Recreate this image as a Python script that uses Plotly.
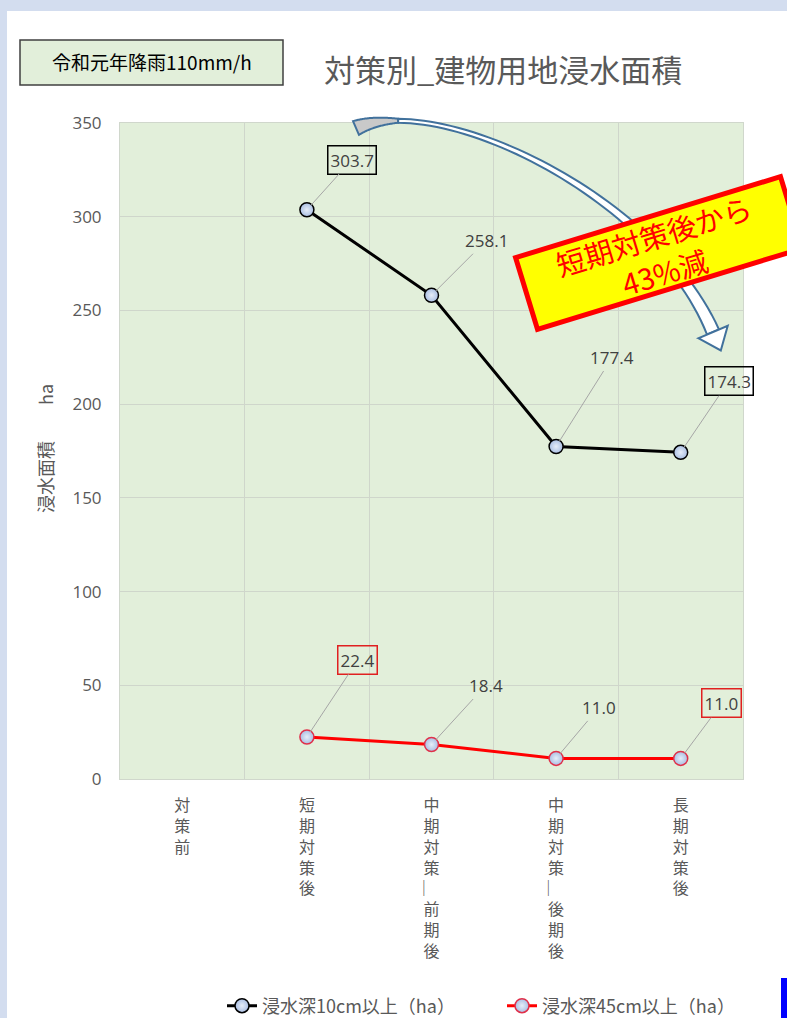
import numpy as np
import plotly.graph_objects as go

# ---------------- data ----------------
categories = ["対策前", "短期対策後", "中期対策_前期後", "中期対策_後期後", "長期対策後"]
depth10 = [None, 303.7, 258.1, 177.4, 174.3]
depth45 = [None, 22.4, 18.4, 11.0, 11.0]
series_names = ["浸水深10cm以上（ha）", "浸水深45cm以上（ha）"]
title_text = "対策別_建物用地浸水面積"
rain_text = "令和元年降雨110mm/h"
yaxis_text = "浸水面積　　ha"
callout_text = "短期対策後から<br>43%減"
y_ticks = [0, 50, 100, 150, 200, 250, 300, 350]

# ---------------- layout geometry (pixels) ----------------
W, H = 787, 1018
L, R, T, B = 120, 743, 123, 779
PW, PH = R - L, B - T


def px(x, y):
    return (x - L) / PW, (B - y) / PH


FONT = "Noto Sans CJK JP"
GRAY = "#595959"

tick_text = ["<br>".join(list(c.replace("_", "︳"))) for c in categories]

fig = go.Figure()
fig.add_trace(go.Scatter(
    x=categories, y=depth10, name=series_names[0], mode="lines+markers",
    line=dict(color="#000000", width=3),
    marker=dict(size=14, color="#a9bee3", line=dict(color="#000000", width=1.5),
                gradient=dict(type="radial", color="#e6edf8")),
))
fig.add_trace(go.Scatter(
    x=categories, y=depth45, name=series_names[1], mode="lines+markers",
    line=dict(color="#ff0000", width=3),
    marker=dict(size=14, color="#a9bee3", line=dict(color="#e0304a", width=1.5),
                gradient=dict(type="radial", color="#e6edf8")),
))

# data labels with leader lines
label_offsets_10 = [None, (45, -50), (55, -55), (56, -89), (48, -71)]
label_box_10 = [None, "#000000", None, None, "#000000"]
label_offsets_45 = [None, (51, -77), (54, -59), (43, -51), (41, -55)]
label_box_45 = [None, "#e02020", None, None, "#e02020"]

annotations = []
for vals, offs, boxes in [(depth10, label_offsets_10, label_box_10),
                          (depth45, label_offsets_45, label_box_45)]:
    for c, v, o, bc in zip(categories, vals, offs, boxes):
        if v is None:
            continue
        annotations.append(dict(
            x=c, y=v, xref="x", yref="y", text=f"{v:.1f}",
            ax=o[0], ay=o[1], showarrow=True, arrowhead=0, arrowwidth=1,
            arrowcolor="#a6a6a6", standoff=6,
            font=dict(family="Open Sans", size=17, color="#404040"),
            bordercolor=bc if bc else "rgba(0,0,0,0)", borderwidth=1.5 if bc else 0,
            borderpad=2,
        ))


def paper_text(x, y, text, size, color, **kw):
    xp, yp = px(x, y)
    d = dict(x=xp, y=yp, xref="paper", yref="paper", text=text, showarrow=False,
             xanchor="center", yanchor="middle",
             font=dict(family=FONT, size=size, color=color))
    d.update(kw)
    return d


annotations.append(paper_text(503, 68, title_text, 31, GRAY))
annotations.append(paper_text(152, 62, rain_text, 19, "#000000"))
annotations.append(paper_text(45, 449, yaxis_text, 18, GRAY, textangle=-90))
annotations.append(paper_text(659, 253, callout_text, 29, "#ff0000", textangle=-17,
                              width=272, height=70, bgcolor="#ffff00",
                              bordercolor="#ff0000", borderwidth=5, borderpad=0))

# ---------------- shapes ----------------
shapes = []
shapes.append(dict(type="rect", xref="paper", yref="paper",
                   x0=px(0, 0)[0], x1=px(7, 0)[0], y0=px(0, H)[1], y1=px(0, 0)[1],
                   fillcolor="#d3ddef", line=dict(width=0), layer="below"))
shapes.append(dict(type="rect", xref="paper", yref="paper",
                   x0=px(0, 0)[0], x1=px(W, 0)[0], y0=px(0, 11)[1], y1=px(0, 0)[1],
                   fillcolor="#d3ddef", line=dict(width=0), layer="below"))
shapes.append(dict(type="rect", xref="paper", yref="paper",
                   x0=px(781, 0)[0], x1=px(W, 0)[0], y0=px(0, H)[1], y1=px(0, 978)[1],
                   fillcolor="#0000ff", line=dict(width=0)))
bx0, by0 = px(20, 85)
bx1, by1 = px(283, 40)
shapes.append(dict(type="rect", xref="paper", yref="paper", x0=bx0, x1=bx1, y0=by0, y1=by1,
                   fillcolor="#e2efda", line=dict(color="#404040", width=1.5)))


# curved block arrow (decoration)
def bez(p, t):
    p0, p1, p2, p3 = [np.array(q, float) for q in p]
    t = np.asarray(t, float)[:, None]
    pt = (1 - t) ** 3 * p0 + 3 * (1 - t) ** 2 * t * p1 + 3 * (1 - t) * t ** 2 * p2 + t ** 3 * p3
    d = 3 * (1 - t) ** 2 * (p1 - p0) + 6 * (1 - t) * t * (p2 - p1) + 3 * t ** 2 * (p3 - p2)
    return pt, d


ctrl = [(356, 128), (440, 92), (655, 195), (713, 332)]


def band(t0, t1, wfun, n=50):
    t = np.linspace(t0, t1, n)
    pt, d = bez(ctrl, t)
    nrm = np.stack([-d[:, 1], d[:, 0]], 1)
    nrm /= np.linalg.norm(nrm, axis=1)[:, None]
    w = np.array([wfun(tt) for tt in t])[:, None] / 2
    return np.vstack([pt + nrm * w, (pt - nrm * w)[::-1]])


def path_of(poly):
    pts = [px(x, y) for x, y in poly]
    return "M " + " L ".join(f"{x:.5f},{y:.5f}" for x, y in pts) + " Z"


gray_part = band(0.0, 0.14, lambda t: 15 - (t / 0.14) * 11)
white_part = band(0.14, 1.0, lambda t: 4 + 9 * ((t - 0.14) / 0.86) ** 2)
pt, d = bez(ctrl, [1.0])
pt, d = pt[0], d[0] / np.linalg.norm(d[0])
nrm = np.array([-d[1], d[0]])
head = np.array([pt + nrm * 16, pt + d * 20, pt - nrm * 16])
for poly, fill in [(gray_part, "#c9c9c9"), (white_part, "#ffffff"), (head, "#ffffff")]:
    shapes.append(dict(type="path", xref="paper", yref="paper", path=path_of(poly),
                       fillcolor=fill, line=dict(color="#41719c", width=2)))

fig.update_layout(
    width=W, height=H,
    margin=dict(l=L, r=W - R, t=T, b=H - B, autoexpand=False),
    paper_bgcolor="#ffffff", plot_bgcolor="#e2efda",
    showlegend=True,
    legend=dict(orientation="h", xref="container", yref="container",
                x=222 / W, y=1 - 1006 / H, xanchor="left", yanchor="middle",
                font=dict(family=FONT, size=18, color=GRAY), itemwidth=30,
                entrywidth=235, entrywidthmode="pixels",
                bgcolor="rgba(0,0,0,0)"),
    xaxis=dict(type="category", categoryorder="array", categoryarray=categories,
               range=[-0.5, 4.5],
               tickmode="array", tickvals=categories, ticktext=tick_text,
               tickson="boundaries", showgrid=True, gridcolor="#cfd6cb", gridwidth=1,
               ticks="", ticklabelstandoff=12,
               showline=True, linecolor="#d0d7cc", mirror=True,
               tickfont=dict(family=FONT, size=16, color=GRAY), zeroline=False),
    yaxis=dict(range=[0, 350], tickvals=y_ticks, showgrid=True, gridcolor="#cfd6cb",
               ticks="outside", ticklen=14, tickcolor="rgba(0,0,0,0)",
               showline=True, linecolor="#d0d7cc", mirror=True, zeroline=False,
               tickfont=dict(family="Open Sans", size=17, color=GRAY)),
    annotations=annotations, shapes=shapes,
)

fig.write_html("out.html")
